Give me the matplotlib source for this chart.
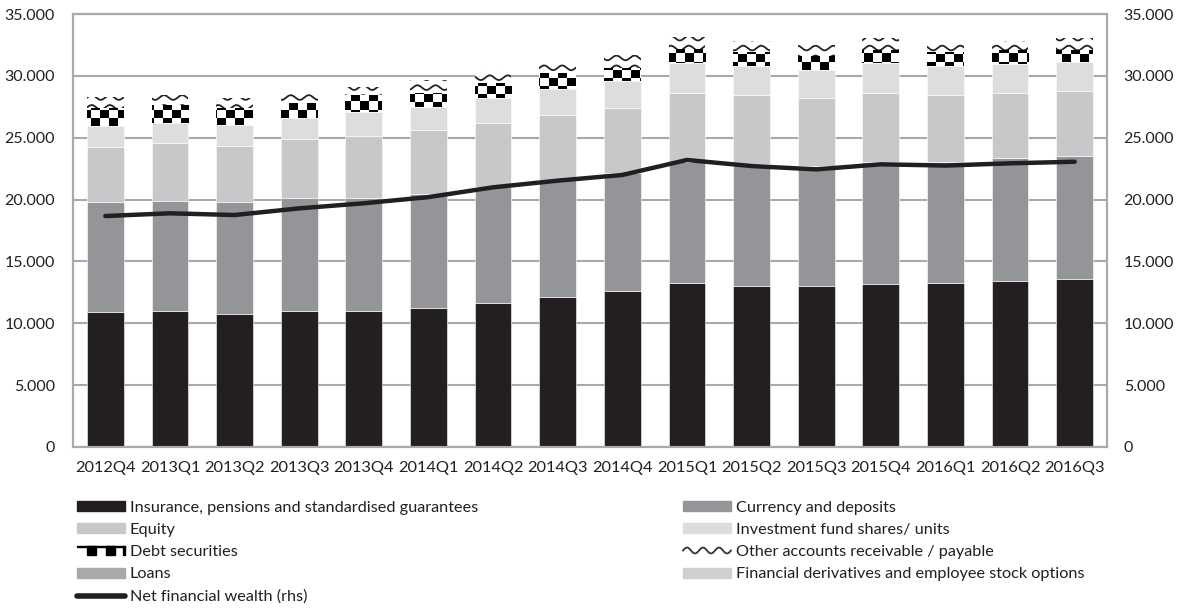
import numpy as np
import matplotlib
matplotlib.use("Agg")
import matplotlib.pyplot as plt
from matplotlib.patches import Rectangle, Patch
from matplotlib.lines import Line2D
from matplotlib.legend_handler import HandlerBase
from matplotlib.ticker import FuncFormatter

plt.rcParams['font.family'] = ['Lato', 'DejaVu Sans']

quarters = ["2012Q4", "2013Q1", "2013Q2", "2013Q3", "2013Q4", "2014Q1", "2014Q2", "2014Q3",
            "2014Q4", "2015Q1", "2015Q2", "2015Q3", "2015Q4", "2016Q1", "2016Q2", "2016Q3"]

insurance = [10940, 10960, 10780, 10990, 11000, 11260, 11665, 12150,
             12620, 13230, 12990, 13010, 13150, 13230, 13440, 13580]
currency = [8890, 8950, 9050, 9110, 9150, 9190, 9325, 9430,
            9500, 9830, 9890, 9690, 9910, 9830, 9890, 9940]
equity = [4440, 4640, 4530, 4770, 5010, 5170, 5220, 5260,
          5310, 5580, 5570, 5490, 5530, 5390, 5270, 5260]
inv_fund = [1680, 1660, 1670, 1750, 1890, 1840, 1980, 2100,
            2150, 2370, 2350, 2280, 2420, 2350, 2330, 2360]
debt_sec = [1430, 1430, 1350, 1160, 1400, 1180, 1260, 1270,
            1030, 1140, 1150, 1130, 1080, 1150, 1160, 950]
other_acc = [890, 810, 810, 1020, 670, 1030, 970, 860,
             1075, 1020, 890, 890, 945, 810, 750, 945]
loans = [0] * 16
derivatives = [0] * 16
net_wealth = [18670, 18890, 18750, 19290, 19700, 20200, 20990, 21530,
              21990, 23200, 22710, 22440, 22850, 22750, 22930, 23060]

C_INS = "#231f20"
C_CUR = "#939598"
C_EQU = "#c7c8ca"
C_INV = "#dcddde"
C_LOAN = "#a7a9ac"
C_DER = "#cfd0d2"

fig = plt.figure(figsize=(11.81, 6.16), dpi=100)
ax = fig.add_axes([73 / 1181, 1 - 447 / 616, (1107 - 73) / 1181, (447 - 14) / 616])

x = np.arange(len(quarters))
w = 0.57
XMIN, XMAX, YMAX = -0.5, 15.5, 35000

bottom = np.zeros(len(x))
for vals, col in [(insurance, C_INS), (currency, C_CUR), (equity, C_EQU), (inv_fund, C_INV)]:
    ax.bar(x, vals, w, bottom=bottom, color=col, edgecolor="white", linewidth=0.4, zorder=2)
    bottom += np.array(vals)

# debt securities: checker pattern fixed in screen space
debt_bars = ax.bar(x, debt_sec, w, bottom=bottom, color="white", linewidth=0, zorder=2)
bottom += np.array(debt_sec)
ny, nx = 54, 115
chk = (np.indices((ny, nx)).sum(axis=0) % 2).astype(float)
for p in debt_bars:
    im = ax.imshow(chk, extent=(XMIN, XMAX, 0, YMAX), cmap="gray", origin="lower",
                   interpolation="nearest", aspect="auto", zorder=2.5, vmin=0, vmax=1)
    im.set_clip_path(p)

# other accounts: wavy lines
oth_bars = ax.bar(x, other_acc, w, bottom=bottom, color="white", linewidth=0, zorder=2)
bottom += np.array(other_acc)
xs = np.linspace(XMIN, XMAX, 3000)
period = 0.28
amp = 190
for p in oth_bars:
    for y0 in np.arange(250, YMAX, 800):
        ln, = ax.plot(xs, y0 + amp * np.sin(2 * np.pi * xs / period), color="#222222",
                      lw=1.3, zorder=2.6)
        ln.set_clip_path(p)

ax.bar(x, loans, w, bottom=bottom, color=C_LOAN, linewidth=0, zorder=2)
bottom += np.array(loans)
ax.bar(x, derivatives, w, bottom=bottom, color=C_DER, linewidth=0, zorder=2)

ax.set_xlim(XMIN, XMAX)
ax.set_ylim(0, YMAX)
ax.set_yticks(np.arange(0, 35001, 5000))
fmt = FuncFormatter(lambda v, _: f"{int(v):,}".replace(",", "."))
ax.yaxis.set_major_formatter(fmt)
ax.set_xticks(x)
ax.set_xticklabels(quarters)
ax.grid(axis="y", color="#a7a9ac", lw=1.5, zorder=0)
ax.set_axisbelow(True)
ax.tick_params(axis="y", length=0, pad=13, labelsize=11.5, colors="#231f20")
ax.tick_params(axis="x", length=0, pad=10, labelsize=11.8, colors="#231f20")
for s in ax.spines.values():
    s.set_color("#a7a9ac")
    s.set_linewidth(1.5)

ax2 = ax.twinx()
ax2.set_ylim(0, YMAX)
ax2.set_yticks(np.arange(0, 35001, 5000))
ax2.yaxis.set_major_formatter(fmt)
ax2.tick_params(axis="y", length=0, pad=12, labelsize=11.5, colors="#231f20")
for s in ax2.spines.values():
    s.set_color("#a7a9ac")
    s.set_linewidth(1.5)
ax2.plot(x, net_wealth, color=C_INS, lw=3.2, solid_capstyle="round", solid_joinstyle="round", zorder=5)


class HandlerChecker(HandlerBase):
    def create_artists(self, legend, orig_handle, xd, yd, width, height, fontsize, trans):
        arts = [Rectangle((-xd, -yd + height * 0.85), width, height * 0.15, color="black", transform=trans)]
        n = 5
        cw = width / n
        for i in range(n):
            if i % 2 == 1:
                arts.append(Rectangle((-xd + i * cw, -yd), cw, height, color="black", transform=trans))
        arts.append(Rectangle((-xd + width - 1.5, -yd), 1.5, height, color="black", transform=trans))
        return arts


class HandlerWave(HandlerBase):
    def create_artists(self, legend, orig_handle, xd, yd, width, height, fontsize, trans):
        t = np.linspace(0, width, 100)
        y = -yd + height / 2 + height * 0.3 * np.sin(2 * np.pi * t / (width / 3))
        ln = Line2D(t - xd, y, color="#333333", lw=1.3, transform=trans)
        return [ln]


h_ins = Patch(color=C_INS)
h_cur = Patch(color=C_CUR)
h_equ = Patch(color=C_EQU)
h_inv = Patch(color=C_INV)
h_debt = Patch(color="white")
h_oth = Line2D([], [])
h_loan = Patch(color=C_LOAN)
h_der = Patch(color=C_DER)
h_net = Line2D([], [], color=C_INS, lw=4, solid_capstyle="round")

fs = 11.7
leg_kw = dict(frameon=False, fontsize=fs, handlelength=48 / (fs * 100 / 72), handleheight=0.55,
              handletextpad=0.3, labelspacing=0.5, borderpad=0, borderaxespad=0,
              labelcolor="#231f20")
fig.legend([h_ins, h_equ, h_debt, h_loan, h_net],
           ["Insurance, pensions and standardised guarantees", "Equity", "Debt securities",
            "Loans", "Net financial wealth (rhs)"],
           loc="upper left", bbox_to_anchor=(77 / 1181, 1 - 501 / 616),
           handler_map={h_debt: HandlerChecker()}, **leg_kw)
fig.legend([h_cur, h_inv, h_oth, h_der],
           ["Currency and deposits", "Investment fund shares/ units",
            "Other accounts receivable / payable", "Financial derivatives and employee stock options"],
           loc="upper left", bbox_to_anchor=(683 / 1181, 1 - 501 / 616),
           handler_map={h_oth: HandlerWave()}, **leg_kw)

fig.savefig("out.png", dpi=100)
